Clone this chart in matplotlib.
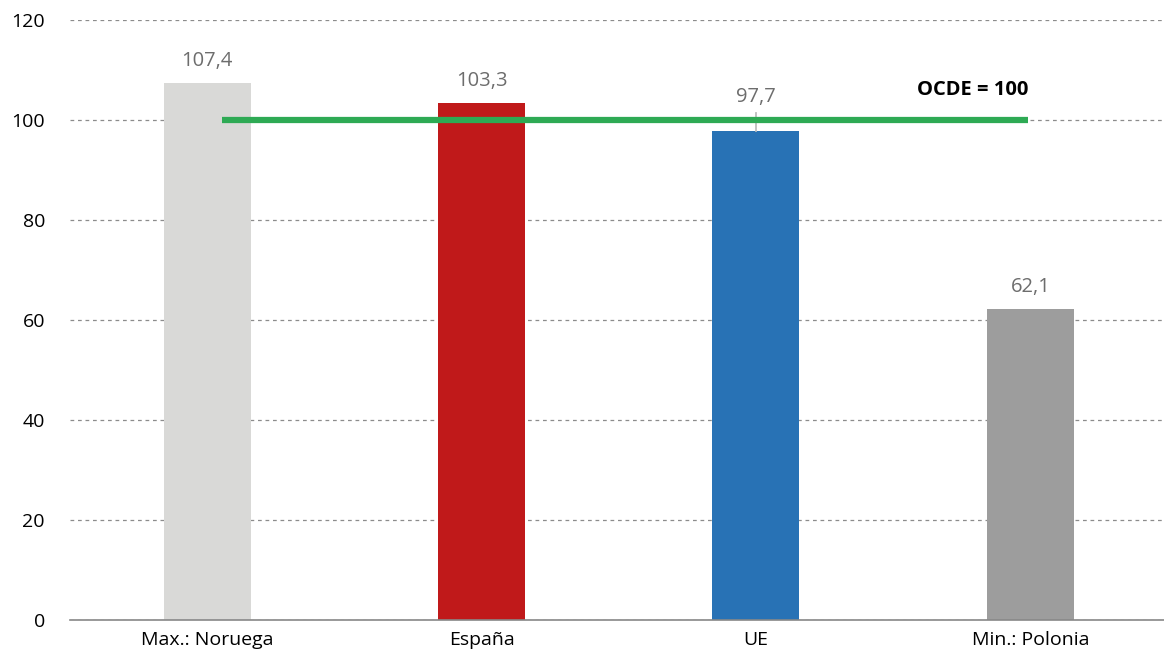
import matplotlib.pyplot as plt

categories = ["Max.: Noruega", "España", "UE", "Min.: Polonia"]
values = [107.4, 103.3, 97.7, 62.1]
value_labels = ["107,4", "103,3", "97,7", "62,1"]
oecd_level = 100
yticks = [0, 20, 40, 60, 80, 100, 120]

bar_colors = ["#d9d9d7", "#c0191a", "#2872b5", "#9d9d9d"]

plt.rcParams['font.family'] = ['Open Sans', 'DejaVu Sans']

fig = plt.figure(figsize=(11.64, 6.58), dpi=100)
ax = fig.add_axes([0.0601, 0.0578, 0.943, 0.9118])

x = list(range(len(categories)))
ax.bar(x, values, width=0.317, color=bar_colors, zorder=2)

for xi, v, lab in zip(x, values, value_labels):
    off = 4.4
    if lab == "97,7":
        off = 6.8
        # leader line from label to bar top
        ax.plot([xi, xi], [v, v + 3.6], color="#bdbdbd", lw=1.3, zorder=2)
    ax.text(xi, v + off, lab, ha="center", va="center", fontsize=14.5, color="#6d6d6d")

# OECD reference line
ax.plot([0.055, 2.99], [oecd_level, oecd_level], color="#2eaa54", lw=4.5,
        solid_capstyle="butt", zorder=3)
ax.text(2.79, oecd_level + 6.0, "OCDE = 100", ha="center", va="center",
        fontsize=14.5, fontweight="bold", color="black")

ax.set_xlim(-0.5, 3.5)
ax.set_ylim(0, 120)
ax.set_yticks(yticks)
ax.set_xticks(x)
ax.set_xticklabels(categories)
ax.tick_params(axis="both", length=0, labelsize=14, colors="black")
ax.tick_params(axis="y", pad=18)
ax.tick_params(axis="x", pad=8)

ax.yaxis.grid(True, linestyle=(0, (3, 3)), color="#8c8c8c", lw=0.9, zorder=0)
ax.set_axisbelow(True)
for s in ["top", "right", "left"]:
    ax.spines[s].set_visible(False)
ax.spines["bottom"].set_color("#888888")
ax.spines["bottom"].set_linewidth(1.2)

fig.savefig("out.png", dpi=100)
